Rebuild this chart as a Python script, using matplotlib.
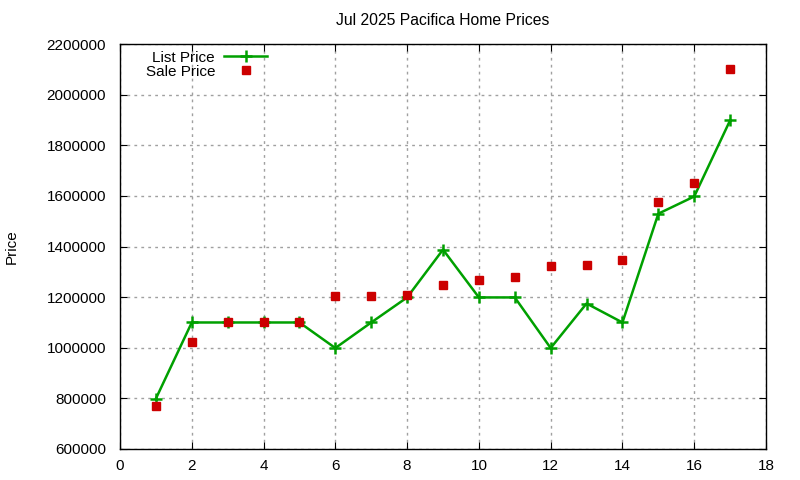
import numpy as np
import matplotlib
matplotlib.use('Agg')
import matplotlib.pyplot as plt

plt.rcParams['font.family'] = ['Liberation Sans', 'DejaVu Sans']

homes = [1, 2, 3, 4, 5, 6, 7, 8, 9, 10, 11, 12, 13, 14, 15, 16, 17]
list_price = [799000, 1100000, 1100000, 1100000, 1100000, 999000, 1100000, 1199000, 1388000,
              1199000, 1199000, 999000, 1175000, 1100000, 1530000, 1598000, 1899000]
sale_price = [771000, 1022000, 1100000, 1100000, 1100000, 1203000, 1205000, 1210000, 1249000,
              1268000, 1281000, 1324000, 1328000, 1347000, 1576000, 1651000, 2101000]

fig = plt.figure(figsize=(8, 4.8), dpi=100)
ax = fig.add_axes([0.15, 0.0646, 0.8075, 0.8434])

ax.plot(homes, list_price, color='#00a000', lw=1.8, marker='+', ms=8, mew=1.8, label='List Price')
ax.plot(homes, sale_price, ls='none', color='#cc0000', marker='s', ms=6, label='Sale Price')

ax.set_xlim(0, 18)
ax.set_ylim(600000, 2200000)
ax.set_xticks(np.arange(0, 19, 2))
ax.set_yticks(np.arange(600000, 2200001, 200000))
ax.ticklabel_format(style='plain', axis='y', useOffset=False)
ax.tick_params(direction='in', top=True, right=True, labelsize=11, length=5)
ax.tick_params(axis='y', pad=10)
ax.tick_params(axis='x', pad=7)
ax.grid(True, color='#a0a0a0', ls=(0, (2, 3)), lw=1)
ax.set_axisbelow(True)
for s in ax.spines.values():
    s.set_linewidth(1)

ax.set_title('Jul 2025 Pacifica Home Prices', fontsize=11.3, pad=14)
ax.set_ylabel('Price', fontsize=11, labelpad=20)

ax.legend(loc='upper left', bbox_to_anchor=(0.023, 1.01), frameon=False, markerfirst=False,
          fontsize=11, handlelength=2.8, labelspacing=0.0, borderaxespad=0.3, handletextpad=0.6)

fig.savefig('out.png', dpi=100)
